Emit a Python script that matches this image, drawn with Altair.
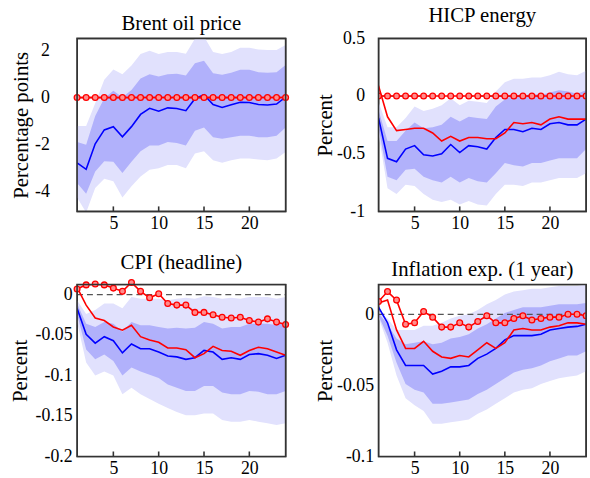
import altair as alt
import pandas as pd

h = list(range(1, 25))

# ---- Brent oil price ----
brent_blue = [-2.78, -3.06, -1.97, -1.38, -1.24, -1.67, -1.24, -0.72, -0.46, -0.58, -0.44, -0.47,
              -0.56, -0.05, 0.12, -0.30, -0.42, -0.31, -0.20, -0.21, -0.30, -0.32, -0.28, 0.02]
brent_red = [0.0] * 24
brent_redc = [0.0] * 24
brent_hi90 = [-1.21, -1.21, -0.24, 0.76, 1.19, 0.99, 1.36, 1.85, 1.99, 1.85, 1.94, 1.94,
              1.87, 2.50, 2.60, 1.94, 1.85, 1.94, 2.12, 2.12, 2.05, 2.03, 2.03, 2.24]
brent_lo90 = [-4.26, -4.90, -3.85, -3.46, -3.57, -4.26, -3.78, -3.36, -3.08, -3.01, -2.88, -2.88,
              -3.01, -2.39, -2.29, -2.67, -2.78, -2.67, -2.60, -2.60, -2.64, -2.67, -2.60, -2.32]
brent_hi68 = [-1.90, -2.01, -0.79, -0.03, 0.29, 0.01, 0.32, 0.81, 0.99, 0.90, 0.99, 1.01,
              0.94, 1.46, 1.57, 1.04, 0.97, 1.06, 1.18, 1.18, 1.08, 1.06, 1.08, 1.39]
brent_lo68 = [-3.64, -4.10, -3.15, -2.71, -2.74, -3.22, -2.74, -2.29, -2.04, -2.04, -1.90, -1.94,
              -2.04, -1.42, -1.28, -1.69, -1.76, -1.69, -1.63, -1.63, -1.69, -1.69, -1.63, -1.28]
brent_yticks = [-4, -2, 0, 2]

# ---- HICP energy ----
hicp_blue = [-0.19, -0.54, -0.57, -0.46, -0.43, -0.51, -0.52, -0.50, -0.42, -0.49, -0.43, -0.44,
             -0.46, -0.36, -0.29, -0.29, -0.31, -0.28, -0.29, -0.24, -0.23, -0.25, -0.25, -0.20]
hicp_red = [0.09, -0.18, -0.30, -0.29, -0.28, -0.28, -0.32, -0.39, -0.35, -0.39, -0.36, -0.36,
            -0.37, -0.37, -0.32, -0.23, -0.24, -0.23, -0.25, -0.20, -0.18, -0.20, -0.20, -0.20]
hicp_redc = [0.0] * 24
hicp_hi90 = [-0.05, -0.27, -0.27, -0.19, -0.09, -0.13, -0.11, -0.08, -0.02, -0.08, -0.04, -0.05,
             -0.06, 0.04, 0.12, 0.15, 0.15, 0.16, 0.16, 0.18, 0.21, 0.19, 0.18, 0.22]
hicp_lo90 = [-0.33, -0.80, -0.85, -0.77, -0.78, -0.85, -0.90, -0.92, -0.90, -0.94, -0.91, -0.94,
             -0.95, -0.85, -0.77, -0.77, -0.78, -0.75, -0.75, -0.73, -0.71, -0.71, -0.71, -0.67]
hicp_hi68 = [-0.12, -0.39, -0.39, -0.30, -0.23, -0.28, -0.27, -0.25, -0.18, -0.22, -0.18, -0.19,
             -0.20, -0.09, -0.03, 0.01, 0.00, 0.02, 0.01, 0.03, 0.05, 0.04, 0.02, 0.05]
hicp_lo68 = [-0.27, -0.70, -0.73, -0.64, -0.63, -0.70, -0.73, -0.75, -0.70, -0.75, -0.71, -0.74,
             -0.75, -0.67, -0.58, -0.60, -0.61, -0.58, -0.58, -0.56, -0.54, -0.54, -0.54, -0.46]
hicp_yticks = [-1, -0.5, 0, 0.5]

# ---- CPI (headline) ----
cpi_blue = [-0.017, -0.049, -0.060, -0.052, -0.057, -0.072, -0.061, -0.067, -0.067, -0.071, -0.076, -0.077,
            -0.080, -0.078, -0.069, -0.071, -0.080, -0.078, -0.080, -0.074, -0.073, -0.075, -0.079, -0.075]
cpi_red = [0.009, -0.013, -0.029, -0.032, -0.040, -0.044, -0.038, -0.052, -0.056, -0.059, -0.066, -0.066,
           -0.068, -0.078, -0.073, -0.064, -0.069, -0.070, -0.075, -0.069, -0.065, -0.067, -0.071, -0.075]
cpi_redc = [0.007, 0.012, 0.013, 0.012, 0.008, 0.004, 0.015, 0.004, -0.004, 0.001, -0.011, -0.013,
            -0.013, -0.022, -0.022, -0.025, -0.028, -0.029, -0.028, -0.032, -0.034, -0.030, -0.034, -0.037]
cpi_hi90 = [-0.007, -0.024, -0.019, -0.011, -0.011, -0.017, -0.003, -0.005, -0.005, -0.005, -0.007, -0.005,
            -0.004, -0.005, -0.002, -0.003, -0.005, -0.004, -0.005, -0.003, -0.003, -0.003, -0.005, -0.003]
cpi_lo90 = [-0.034, -0.084, -0.100, -0.095, -0.100, -0.123, -0.115, -0.123, -0.129, -0.135, -0.140, -0.145,
            -0.149, -0.149, -0.147, -0.147, -0.155, -0.157, -0.157, -0.155, -0.157, -0.159, -0.161, -0.159]
cpi_hi68 = [-0.011, -0.036, -0.040, -0.034, -0.036, -0.046, -0.034, -0.038, -0.038, -0.040, -0.042, -0.041,
            -0.042, -0.041, -0.034, -0.036, -0.042, -0.040, -0.040, -0.036, -0.036, -0.036, -0.038, -0.034]
cpi_lo68 = [-0.024, -0.068, -0.080, -0.074, -0.082, -0.100, -0.090, -0.095, -0.099, -0.103, -0.111, -0.115,
            -0.119, -0.119, -0.113, -0.113, -0.121, -0.123, -0.123, -0.119, -0.120, -0.123, -0.123, -0.119]
cpi_yticks = [-0.2, -0.15, -0.1, -0.05, 0]

# ---- Inflation expectations (1 year) ----
inf_blue = [0.005, -0.006, -0.025, -0.036, -0.036, -0.036, -0.042, -0.040, -0.037, -0.037, -0.036, -0.031,
            -0.028, -0.024, -0.018, -0.015, -0.015, -0.015, -0.014, -0.011, -0.010, -0.009, -0.0085, -0.007]
inf_red = [0.008, 0.010, -0.011, -0.024, -0.024, -0.019, -0.026, -0.030, -0.031, -0.029, -0.030, -0.025,
           -0.020, -0.024, -0.020, -0.011, -0.010, -0.011, -0.011, -0.009, -0.008, -0.006, -0.006, -0.007]
inf_redc = [0.009, 0.016, 0.010, -0.007, -0.006, 0.002, -0.002, -0.009, -0.009, -0.006, -0.009, -0.005,
            -0.001, -0.006, -0.006, -0.003, -0.001, -0.004, -0.003, -0.002, -0.002, 0.000, 0.000, -0.001]
inf_hi90 = [0.002, -0.003, -0.011, -0.011, -0.011, -0.008, -0.008, -0.006, -0.003, -0.001, 0.000, 0.003,
            0.007, 0.010, 0.014, 0.016, 0.017, 0.018, 0.018, 0.019, 0.020, 0.020, 0.020, 0.021]
inf_lo90 = [-0.002, -0.020, -0.043, -0.059, -0.064, -0.068, -0.077, -0.077, -0.076, -0.075, -0.074, -0.070,
            -0.067, -0.063, -0.059, -0.055, -0.053, -0.052, -0.049, -0.047, -0.045, -0.044, -0.043, -0.040]
inf_hi68 = [0.001, -0.007, -0.017, -0.021, -0.020, -0.019, -0.021, -0.020, -0.017, -0.016, -0.014, -0.010,
            -0.007, -0.003, 0.001, 0.003, 0.005, 0.005, 0.005, 0.006, 0.007, 0.007, 0.007, 0.008]
inf_lo68 = [-0.001, -0.015, -0.034, -0.049, -0.053, -0.055, -0.063, -0.063, -0.062, -0.061, -0.060, -0.056,
            -0.053, -0.049, -0.045, -0.041, -0.039, -0.038, -0.036, -0.033, -0.031, -0.029, -0.029, -0.026]
inf_yticks = [-0.1, -0.05, 0]

x_ticks = [5, 10, 15, 20]

FONT = "Liberation Serif"
LIGHT = "#e1e1fd"
DARK = "#b1b1fb"
FRAME = "#333333"
TL = 5  # inward tick length


def panel(title, ytitle, blue, red, redc, lo90, hi90, lo68, hi68, ydom, yticks, width, height,
          tpad, lpad, clip_pts=False):
    df = pd.DataFrame({"h": h, "blue": blue, "red": red, "redc": redc, "base0": [0.0] * len(h),
                       "lo90": lo90, "hi90": hi90, "lo68": lo68, "hi68": hi68})
    xs = alt.Scale(domain=[1, 24], nice=False, zero=False)
    ys = alt.Scale(domain=ydom, nice=False, zero=False)
    xax = alt.Axis(values=x_ticks, title=None, domain=False, ticks=False, grid=False,
                   labelFont=FONT, labelFontSize=18, labelPadding=3)
    yax = alt.Axis(values=yticks, title=ytitle, domain=False, ticks=False, grid=False,
                   labelFont=FONT, labelFontSize=18, labelPadding=lpad,
                   labelExpr="toString(datum.value)", titleFont=FONT, titleFontSize=21,
                   titleFontWeight="normal", titlePadding=tpad)

    def X(f):
        return alt.X(f, scale=xs, axis=xax)

    def Y(f):
        return alt.Y(f, scale=ys, axis=yax)

    base = alt.Chart(df)
    outer = base.mark_area(color=LIGHT, clip=True).encode(X("h:Q"), Y("lo90:Q"), y2="hi90:Q")
    inner = base.mark_area(color=DARK, clip=True).encode(X("h:Q"), Y("lo68:Q"), y2="hi68:Q")
    zero = base.mark_line(color="#555555", strokeDash=[6, 4], strokeWidth=1.3).encode(
        X("h:Q"), Y("base0:Q"))
    bl = base.mark_line(color="#0000ff", strokeWidth=1.6, clip=True).encode(X("h:Q"), Y("blue:Q"))
    rl = base.mark_line(color="#ff0000", strokeWidth=1.6, clip=True).encode(X("h:Q"), Y("red:Q"))
    rc = base.mark_line(color="#ff0000", strokeWidth=1.6, clip=True).encode(X("h:Q"), Y("redc:Q"))
    rp = base.mark_point(shape="circle", size=34, filled=True, fill="#ff8c8c", stroke="#ff0000",
                         strokeWidth=1.3, opacity=1, clip=clip_pts).encode(X("h:Q"), Y("redc:Q"))
    xt = pd.DataFrame({"t": x_ticks})
    xb = alt.Chart(xt).mark_rule(color=FRAME, strokeWidth=1.6).encode(
        X("t:Q"), y=alt.value(height), y2=alt.value(height - TL))
    frame = alt.Chart(pd.DataFrame({"f": [0]})).mark_rect(
        fillOpacity=0, stroke=FRAME, strokeWidth=1.6).encode(
        x=alt.value(0), x2=alt.value(width), y=alt.value(0), y2=alt.value(height))
    return alt.layer(outer, inner, zero, bl, rl, rc, rp, xb, frame).properties(
        width=width, height=height,
        title=alt.TitleParams(title, font=FONT, fontSize=21, fontWeight="normal", offset=4))


# left extents of the y axes are kept equal within each column so that the
# grid alignment of the concatenation gives the same result either way
p1 = panel("Brent oil price", "Percentage points", brent_blue, brent_red, brent_redc,
           brent_lo90, brent_hi90, brent_lo68, brent_hi68, [-4.85, 2.52], brent_yticks,
           211, 175, 3, 28)
p2 = panel("HICP energy", "Percent", hicp_blue, hicp_red, hicp_redc,
           hicp_lo90, hicp_hi90, hicp_lo68, hicp_hi68, [-1, 0.5], hicp_yticks,
           210, 175, 1, 14, True)
p3 = panel("CPI (headline)", "Percent", cpi_blue, cpi_red, cpi_redc,
           cpi_lo90, cpi_hi90, cpi_lo68, cpi_hi68, [-0.2, 0.0125], cpi_yticks,
           211, 174, 5, 5)
p4 = panel("Inflation exp. (1 year)", "Percent", inf_blue, inf_red, inf_redc,
           inf_lo90, inf_hi90, inf_lo68, inf_hi68, [-0.1, 0.021], inf_yticks,
           210, 174, 1, 5, True)

row1 = alt.hconcat(p1, p2, spacing=21)
row2 = alt.hconcat(p3, p4, spacing=21)
chart = alt.vconcat(row1, row2, spacing=18).properties(
    padding={"left": 8, "top": 1, "right": 0, "bottom": 0}
).configure(background="white").configure_view(stroke=FRAME, strokeWidth=1.3)

chart.save("out.html", embed_options={"renderer": "svg", "actions": False})
